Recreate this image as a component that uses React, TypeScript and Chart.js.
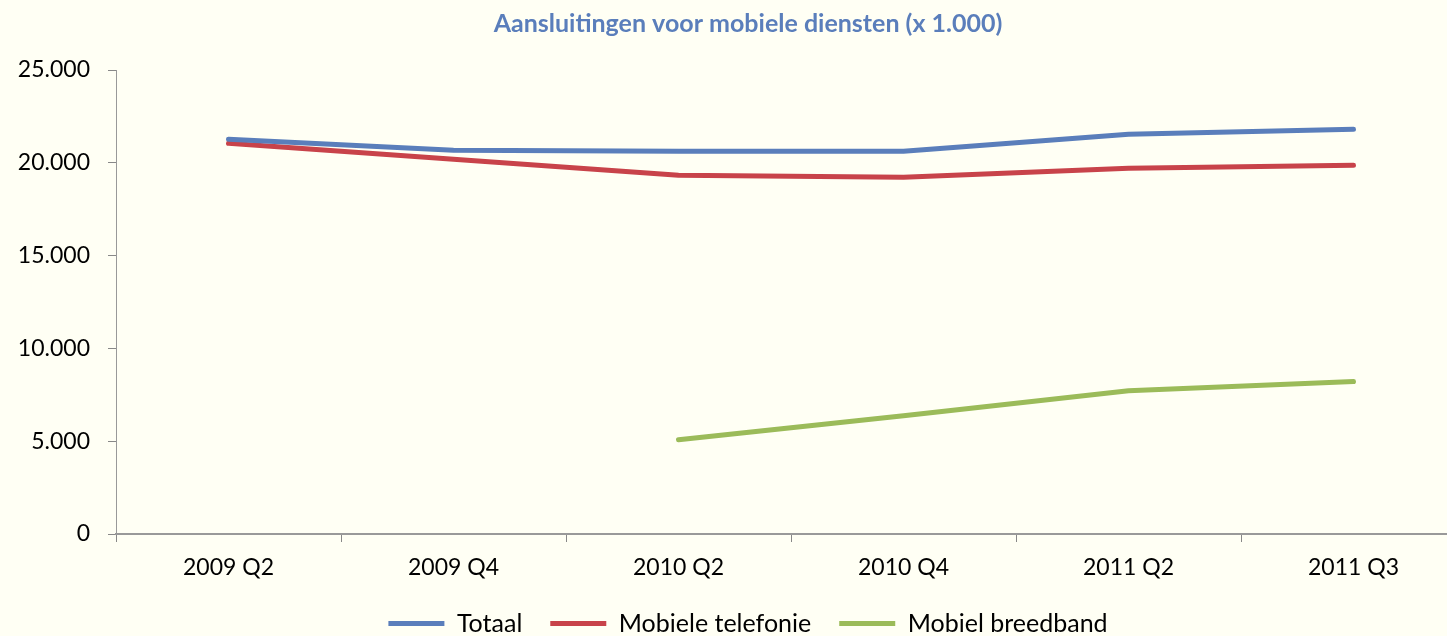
import React, { useEffect, useRef } from "react";
import { Chart, registerables } from "chart.js";

Chart.register(...registerables);

const categories = ["2009 Q2", "2009 Q4", "2010 Q2", "2010 Q4", "2011 Q2", "2011 Q3"];
const totaal = [21270, 20680, 20620, 20620, 21540, 21810];
const mobieleTelefonie = [21050, 20190, 19330, 19220, 19700, 19870];
const mobielBreedband = [null, null, 5080, 6370, 7720, 8210];
const yTicks = [0, 5000, 10000, 15000, 20000, 25000];

const FONT = "Lato, 'Open Sans', 'Noto Sans', sans-serif";

export default function App() {
  const ref = useRef<HTMLCanvasElement | null>(null);
  useEffect(() => {
    document.body.style.margin = "0";
    document.body.style.overflow = "hidden";
    const canvas = ref.current!;
    const chart = new Chart(canvas, {
      type: "line",
      data: {
        labels: categories,
        datasets: [
          { label: "Totaal", data: totaal, borderColor: "#5A7EBB", backgroundColor: "#5A7EBB" },
          { label: "Mobiele telefonie", data: mobieleTelefonie, borderColor: "#C8434A", backgroundColor: "#C8434A" },
          { label: "Mobiel breedband", data: mobielBreedband as any, borderColor: "#9BBB59", backgroundColor: "#9BBB59" },
        ].map((d) => ({
          ...d,
          borderWidth: 5,
          pointRadius: 0,
          tension: 0,
          borderCapStyle: "round" as const,
          borderJoinStyle: "round" as const,
          spanGaps: false,
        })),
      },
      options: {
        responsive: false,
        animation: false,
        layout: { padding: { left: 0, right: 0, top: 9, bottom: 0 } },
        plugins: {
          title: {
            display: true,
            text: "Aansluitingen voor mobiele diensten (x 1.000)",
            color: "#5A7EBB",
            font: { family: FONT, size: 25, weight: "bold" },
            padding: { top: 0, bottom: 31 },
          },
          legend: {
            position: "bottom",
            labels: {
              color: "#000",
              font: { family: FONT, size: 25 },
              boxWidth: 56,
              boxHeight: 5,
              padding: 28,
              generateLabels: (c: any) =>
                c.data.datasets.map((ds: any, i: number) => ({
                  text: ds.label,
                  fillStyle: ds.borderColor,
                  strokeStyle: ds.borderColor,
                  lineWidth: 0,
                  datasetIndex: i,
                  hidden: false,
                })),
            },
          },
          tooltip: { enabled: false },
        },
        scales: {
          x: {
            offset: true,
            grid: { offset: true, drawOnChartArea: false, drawTicks: true, tickLength: 8, color: "#888", lineWidth: 1 },
            border: { color: "#999", width: 2 },
            ticks: { color: "#000", font: { family: FONT, size: 23 }, padding: 12, maxRotation: 0 },
            afterFit: (s: any) => { s.height = 49; },
          },
          y: {
            min: 0,
            max: 25000,
            grid: { drawOnChartArea: false, drawTicks: true, tickLength: 8, color: "#888" },
            border: { color: "#999", width: 1 },
            afterBuildTicks: (s: any) => { s.ticks = yTicks.map((v) => ({ value: v })); },
            ticks: {
              color: "#000",
              font: { family: FONT, size: 23 },
              padding: 18,
              callback: (v: any) => Number(v).toLocaleString("nl-NL"),
            },
            afterFit: (s: any) => { s.width = 116; },
          },
          yRight: {
            type: "linear",
            position: "right",
            display: true,
            grid: { display: false, drawTicks: false },
            border: { display: false },
            ticks: { display: false },
            afterFit: (s: any) => { s.width = 30; },
          },
        },
      },
    });
    return () => chart.destroy();
  }, []);
  return (
    <div style={{ width: 1447, height: 636, overflow: "hidden", background: "#FFFFF4" }}>
      <canvas ref={ref} width={1496} height={646} style={{ display: "block" }} />
    </div>
  );
}
